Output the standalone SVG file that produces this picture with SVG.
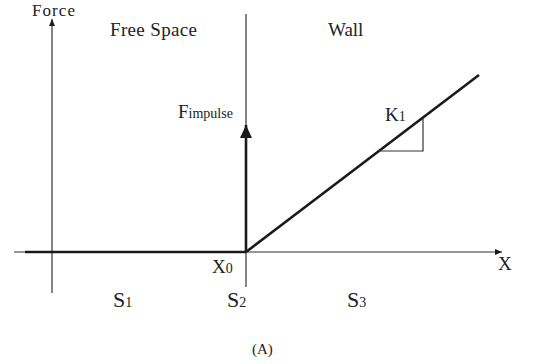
<svg xmlns="http://www.w3.org/2000/svg" width="556" height="364" viewBox="0 0 556 364">
<style>
text{font-family:"Liberation Serif","Times New Roman",serif;fill:#222}
.lbl{font-size:19px}
.sub{font-size:14px}
.s{font-size:22px}
.thin{stroke:#333;stroke-width:1.2;fill:none}
.thick{stroke:#1a1a1a;stroke-width:2.6;fill:none}
</style>
<defs>
<marker id="ah" markerWidth="8" markerHeight="8" refX="7" refY="4" orient="auto" markerUnits="userSpaceOnUse"><path d="M0,1 L7,4 L0,7 Z" fill="#1a1a1a"/></marker>
<marker id="ahb" markerWidth="14" markerHeight="14" refX="13" refY="6" orient="auto" markerUnits="userSpaceOnUse"><path d="M0,0 L13,6 L0,12 Z" fill="#1a1a1a"/></marker>
</defs>
<g id="connectors">
<line class="thin" x1="52" y1="293" x2="52" y2="19" marker-end="url(#ah)"/>
<line class="thin" x1="14" y1="252" x2="502" y2="252" marker-end="url(#ah)"/>
<line class="thin" x1="246" y1="14" x2="246" y2="287"/>
<line class="thick" x1="25" y1="252" x2="246" y2="252"/>
<line class="thick" x1="246" y1="252" x2="246" y2="125" marker-end="url(#ahb)"/>
<line class="thick" x1="246" y1="252" x2="479" y2="75"/>
<polyline class="thin" points="379,151 423,151 423,118"/>
</g>
<g id="force"><text x="32" y="16" font-size="17px" textLength="43">Force</text></g>
<g id="freespace"><text class="lbl" x="110" y="36" textLength="87">Free Space</text></g>
<g id="wall"><text class="lbl" x="328" y="36">Wall</text></g>
<g id="fimpulse"><text class="lbl" x="178" y="118">F<tspan class="sub">impulse</tspan></text></g>
<g id="k1"><text class="lbl" x="385" y="121">K<tspan class="sub">1</tspan></text></g>
<g id="x0"><text class="lbl" x="212" y="273">X<tspan class="sub">0</tspan></text></g>
<g id="xaxis"><text class="lbl" x="498" y="270">X</text></g>
<g id="s1"><text class="s" x="113" y="307">S<tspan class="sub">1</tspan></text></g>
<g id="s2"><text class="s" x="227" y="307">S<tspan class="sub">2</tspan></text></g>
<g id="s3"><text class="s" x="347" y="307">S<tspan class="sub">3</tspan></text></g>
<g id="caption"><text x="252" y="354" font-size="15px">(A)</text></g>
</svg>
